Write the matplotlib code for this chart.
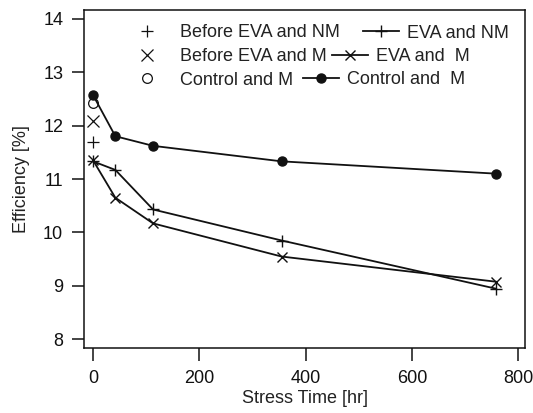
import matplotlib
matplotlib.use("Agg")
import matplotlib.pyplot as plt
from matplotlib.legend import Legend

plt.rcParams['font.family'] = ['Liberation Sans', 'DejaVu Sans']

# Data
before_x = [0]
before_nm = [11.70]
before_m = [12.08]
before_ctrl = [12.42]

time_hr = [0, 42, 113, 355, 758]
eva_nm = [11.33, 11.17, 10.43, 9.85, 8.95]
eva_m = [11.35, 10.65, 10.17, 9.55, 9.08]
control_m = [12.57, 11.80, 11.62, 11.33, 11.10]

W, H = 533, 413
fig = plt.figure(figsize=(W / 100, H / 100), dpi=100)
ax = fig.add_axes([84 / W, 1 - 348 / H, 441 / W, 338 / H])

c = '#111111'
tc = '#222222'
fs = 13

h1, = ax.plot(before_x, before_nm, linestyle='none', marker='+', ms=9, mew=0.9, color=c, label='Before EVA and NM')
h2, = ax.plot(before_x, before_m, linestyle='none', marker='x', ms=8, mew=0.9, color=c, label='Before EVA and M')
h3, = ax.plot(before_x, before_ctrl, linestyle='none', marker='o', ms=7, mew=0.9, mfc='white', color=c, label='Control and M')
h4, = ax.plot(time_hr, eva_nm, marker='+', ms=9, mew=1.0, lw=1.3, color=c, label='EVA and NM')
h5, = ax.plot(time_hr, eva_m, marker='x', ms=7.5, mew=1.0, lw=1.3, color=c, label='EVA and  M')
h6, = ax.plot(time_hr, control_m, marker='o', ms=6.5, lw=1.3, color=c, label='Control and  M')

ax.set_xlim(-17, 813)
ax.set_ylim(7.84, 14.16)
ax.set_xticks([0, 200, 400, 600, 800])
ax.set_yticks([8, 9, 10, 11, 12, 13, 14])
ax.tick_params(direction='out', length=9, width=1.1, labelsize=fs, colors=c)
ax.tick_params(axis='x', pad=7)
ax.tick_params(axis='y', pad=6)
ax.tick_params(top=False, right=False)
for s in ax.spines.values():
    s.set_linewidth(1.1)
    s.set_color(c)

ax.set_xlabel('Stress Time [hr]', fontsize=fs, color=tc, labelpad=2)
ax.set_ylabel('Efficiency [%]', fontsize=fs, color=tc, labelpad=9.5)

# first legend column: markers only
first = [h1, h2, h3]
leg1 = Legend(ax, first, [h.get_label() for h in first], frameon=False, loc='upper left',
              bbox_to_anchor=(138 / W, 1 - 24 / H), bbox_transform=fig.transFigure,
              fontsize=fs, handlelength=1.0, handletextpad=1.33,
              labelspacing=0.38, borderaxespad=0, borderpad=0)
for t in leg1.get_texts():
    t.set_color(tc)
ax.add_artist(leg1)

# second legend column: each entry flows after its row text
row_x = [363, 332, 303]
row_y = [33, 56.5, 80]
for hnd, xx, yy in zip([h4, h5, h6], row_x, row_y):
    lg = Legend(ax, [hnd], [hnd.get_label()], frameon=False, loc='center left',
                bbox_to_anchor=(xx / W, 1 - yy / H), bbox_transform=fig.transFigure,
                fontsize=fs, handlelength=2.0, handletextpad=0.45,
                borderaxespad=0, borderpad=0)
    for t in lg.get_texts():
        t.set_color(tc)
    ax.add_artist(lg)

fig.savefig('out.png', dpi=100)
